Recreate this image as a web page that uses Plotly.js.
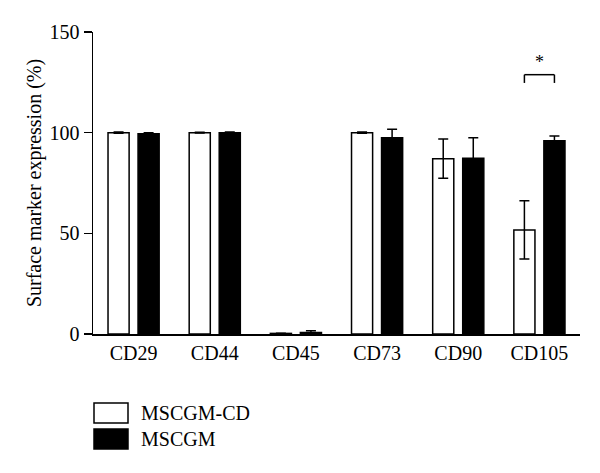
<!DOCTYPE html>
<html>
<head>
<meta charset="utf-8">
<script src="https://cdn.plot.ly/plotly-3.0.1.min.js"></script>
<style>html,body{margin:0;padding:0;background:#fff;}#chart{width:600px;height:473px;}</style>
</head>
<body>
<div id="chart"></div>
<script>
// Data
var categories = ['CD29', 'CD44', 'CD45', 'CD73', 'CD90', 'CD105'];
var seriesNames = ['MSCGM-CD', 'MSCGM'];
var cdValues = [100, 100, 0.3, 100, 87.1, 51.7];
var cdErrors = [0.3, 0.2, 0.1, 0.3, 9.8, 14.5];
var gmValues = [99.5, 100, 0.8, 97.5, 87.3, 96.0];
var gmErrors = [0.5, 0.3, 0.8, 4.2, 10.2, 2.4];
var yTicks = [0, 50, 100, 150];
var sigPair = {category: 'CD105', label: '*', low: 124.7, high: 128.8};

var FONT = 'Liberation Serif, Times New Roman, serif';
var plotL = 93, plotR = 580, plotT = 32, plotB = 334;
function px(x) { return (x - plotL) / (plotR - plotL); }
function py(y) { return (plotB - y) / (plotB - plotT); }

var barW = 0.26;
var traces = [
  {
    type: 'bar', name: seriesNames[0], x: categories, y: cdValues,
    width: barW, offset: -0.315,
    marker: {color: '#ffffff', line: {color: '#000000', width: 1.5}},
    error_y: {type: 'data', array: cdErrors, visible: true, color: '#000000', thickness: 1.5, width: 5},
    showlegend: false
  },
  {
    type: 'bar', name: seriesNames[1], x: categories, y: gmValues,
    width: barW, offset: 0.055,
    marker: {color: '#000000', line: {color: '#000000', width: 1.5}},
    error_y: {type: 'data', array: gmErrors, visible: true, color: '#000000', thickness: 1.5, width: 5},
    showlegend: false
  }
];

var ci = categories.indexOf(sigPair.category);
var xa = ci - 0.315 + barW / 2, xb = ci + 0.055 + barW / 2;
var shapes = [
  {type: 'line', xref: 'x', yref: 'y', x0: xa, x1: xa, y0: sigPair.low, y1: sigPair.high, line: {color: '#000', width: 1.5}},
  {type: 'line', xref: 'x', yref: 'y', x0: xa, x1: xb, y0: sigPair.high, y1: sigPair.high, line: {color: '#000', width: 1.5}},
  {type: 'line', xref: 'x', yref: 'y', x0: xb, x1: xb, y0: sigPair.low, y1: sigPair.high, line: {color: '#000', width: 1.5}},
  // legend boxes
  {type: 'rect', xref: 'paper', yref: 'paper', x0: px(94), x1: px(128), y0: py(423), y1: py(403), fillcolor: '#ffffff', line: {color: '#000', width: 1.5}},
  {type: 'rect', xref: 'paper', yref: 'paper', x0: px(94), x1: px(128), y0: py(449), y1: py(429), fillcolor: '#000000', line: {color: '#000', width: 1.5}}
];

var annotations = [
  {xref: 'x', yref: 'y', x: (xa + xb) / 2, y: sigPair.high + 0.5, text: sigPair.label, showarrow: false, yanchor: 'bottom', font: {family: FONT, size: 18, color: '#000000'}},
  {xref: 'paper', yref: 'paper', x: px(139), y: py(413), text: seriesNames[0], showarrow: false, xanchor: 'left', yanchor: 'middle', font: {family: FONT, size: 20, color: '#000'}},
  {xref: 'paper', yref: 'paper', x: px(139), y: py(439), text: seriesNames[1], showarrow: false, xanchor: 'left', yanchor: 'middle', font: {family: FONT, size: 20, color: '#000'}}
];

var layout = {
  width: 600, height: 473,
  margin: {l: plotL, r: 600 - plotR, t: plotT, b: 473 - plotB, pad: 0},
  paper_bgcolor: '#fff', plot_bgcolor: '#fff',
  font: {family: FONT, size: 20, color: '#000'},
  barmode: 'overlay',
  xaxis: {
    type: 'category', range: [-0.5, 5.5],
    showline: true, linecolor: '#000', linewidth: 1.5,
    ticks: '', showgrid: false, zeroline: false,
    tickfont: {family: FONT, size: 20, color: '#000'},
    fixedrange: true
  },
  yaxis: {
    range: [0, 150], tickvals: yTicks, ticktext: yTicks.map(String),
    showline: true, linecolor: '#000', linewidth: 1.5,
    ticks: 'outside', ticklen: 8, tickwidth: 1.5, tickcolor: '#000',
    showgrid: false, zeroline: false,
    tickfont: {family: FONT, size: 20, color: '#000'},
    title: {text: 'Surface marker expression (%)', font: {family: FONT, size: 20, color: '#000'}, standoff: 2},
    fixedrange: true
  },
  shapes: shapes,
  annotations: annotations,
  showlegend: false
};

Plotly.newPlot('chart', traces, layout, {displayModeBar: false, staticPlot: true});
</script>
</body>
</html>
